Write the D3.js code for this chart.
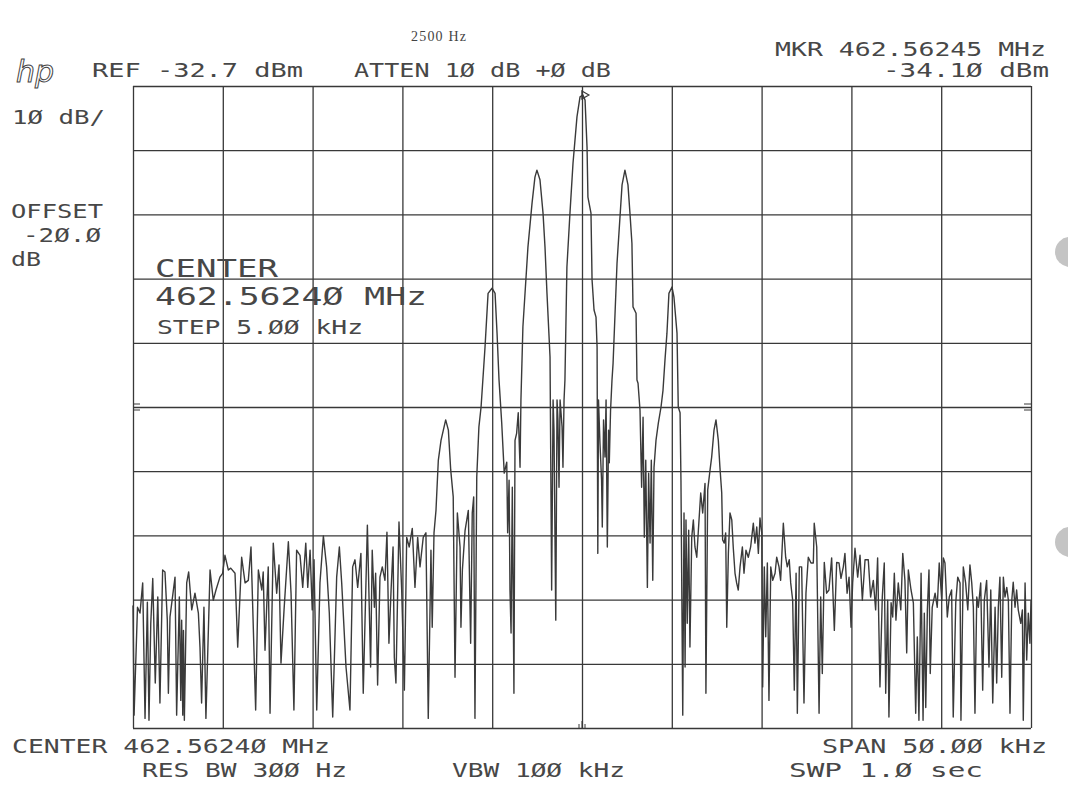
<!DOCTYPE html>
<html><head><meta charset="utf-8">
<script src="https://cdn.jsdelivr.net/npm/d3@7"></script>
<style>
html,body{margin:0;padding:0;background:#fff;}
svg{display:block;}
.plt{font-family:"DejaVu Sans Mono",monospace;fill:#474747;}
</style></head><body>
<svg id="chart" width="1068" height="800"></svg>
<script>
// ---------- data ----------
const freqOffsetKHz = [
-25.00,-24.94,-24.83,-24.75,-24.61,-24.46,-24.33,-24.20,-24.11,-24.01,
-23.90,-23.76,-23.62,-23.50,-23.35,-23.22,-23.09,-23.03,-22.94,-22.66,
-22.57,-22.42,-22.34,-22.29,-22.23,-22.19,-22.14,-22.01,-21.90,-21.73,
-21.55,-21.36,-21.27,-21.18,-21.05,-20.94,-20.71,-20.53,-20.38,-20.16,
-20.01,-19.88,-19.69,-19.56,-19.32,-19.17,-18.95,-18.76,-18.58,-18.43,
-18.17,-18.02,-17.83,-17.75,-17.65,-17.47,-17.37,-17.19,-17.00,-16.87,
-16.76,-16.59,-16.35,-16.20,-16.04,-15.89,-15.70,-15.55,-15.38,-15.27,
-15.14,-15.02,-14.92,-14.77,-14.59,-14.40,-14.22,-14.07,-13.88,-13.66,
-13.51,-13.38,-13.14,-12.92,-12.77,-12.64,-12.49,-12.31,-12.18,-11.95,
-11.77,-11.68,-11.56,-11.49,-11.38,-11.25,-11.12,-10.97,-10.86,-10.75,
-10.63,-10.52,-10.45,-10.36,-10.19,-10.04,-9.89,-9.76,-9.62,-9.45,
-9.30,-9.15,-9.02,-8.84,-8.69,-8.56,-8.41,-8.34,-8.24,-8.13,
-8.00,-7.85,-7.72,-7.59,-7.44,-7.31,-7.17,-7.07,-6.94,-6.79,
-6.74,-6.66,-6.51,-6.33,-6.20,-6.11,-6.03,-5.96,-5.86,-5.74,
-5.62,-5.40,-5.23,-5.01,-4.84,-4.73,-4.62,-4.47,-4.33,-4.19,
-4.14,-4.06,-4.01,-3.95,-3.88,-3.79,-3.73,-3.64,-3.55,-3.45,
-3.40,-3.29,-3.01,-2.78,-2.62,-2.51,-2.34,-2.17,-2.06,-1.95,
-1.78,-1.69,-1.61,-1.56,-1.46,-1.39,-1.34,-1.28,-1.22,-1.11,
-1.06,-1.00,-0.95,-0.84,-0.67,-0.50,-0.28,-0.11,0.05,0.17,
0.28,0.33,0.50,0.56,0.67,0.78,0.84,0.88,0.92,1.00,
1.09,1.13,1.20,1.28,1.34,1.41,1.48,1.52,1.59,1.67,
1.73,1.95,2.23,2.39,2.56,2.67,2.78,2.84,3.01,3.06,
3.12,3.23,3.32,3.40,3.47,3.55,3.64,3.71,3.79,3.86,
3.94,4.01,4.12,4.25,4.40,4.51,4.62,4.73,4.84,5.01,
5.12,5.29,5.36,5.46,5.51,5.61,5.68,5.74,5.79,5.86,
5.94,6.01,6.11,6.20,6.29,6.39,6.48,6.61,6.72,6.85,
6.90,7.00,7.13,7.22,7.35,7.46,7.59,7.68,7.78,7.83,
7.92,8.00,8.06,8.15,8.24,8.34,8.42,8.52,8.61,8.70,
8.80,8.93,9.02,9.13,9.26,9.39,9.54,9.63,9.73,9.82,
9.91,10.01,10.06,10.15,10.23,10.32,10.41,10.51,10.62,10.75,
10.84,10.97,11.06,11.21,11.34,11.43,11.54,11.62,11.73,11.82,
11.92,11.99,12.10,12.23,12.36,12.47,12.60,12.75,12.88,12.93,
13.07,13.20,13.29,13.38,13.49,13.62,13.75,13.90,14.05,14.18,
14.31,14.42,14.55,14.64,14.76,14.87,14.98,15.07,15.20,15.35,
15.48,15.61,15.76,15.94,16.07,16.22,16.35,16.46,16.59,16.72,
16.83,16.91,17.02,17.09,17.21,17.30,17.39,17.48,17.61,17.75,
17.86,17.98,18.08,18.17,18.32,18.45,18.58,18.67,18.76,18.88,
18.99,19.06,19.14,19.23,19.32,19.39,19.50,19.66,19.78,19.89,
20.03,20.12,20.21,20.34,20.45,20.58,20.67,20.81,20.92,21.05,
21.10,21.23,21.36,21.48,21.60,21.70,21.79,21.88,21.98,22.07,
22.20,22.31,22.40,22.53,22.66,22.76,22.87,23.00,23.09,23.18,
23.27,23.37,23.46,23.55,23.65,23.74,23.83,23.93,24.01,24.11,
24.20,24.29,24.43,24.52,24.57,24.67,24.76,24.85,24.94,25.00
];
const levelDbm = [
-113.6,-130.7,-121.0,-113.9,-114.8,-110.1,-131.2,-113.1,-131.5,-116.4,
-109.4,-125.7,-112.3,-128.8,-108.1,-108.4,-115.9,-127.3,-115.4,-109.2,
-130.7,-112.3,-128.4,-115.9,-130.7,-117.5,-131.5,-110.1,-108.4,-114.3,
-111.7,-114.8,-120.1,-128.8,-113.9,-131.2,-108.1,-112.8,-111.2,-109.2,
-108.6,-105.8,-108.1,-107.8,-108.6,-120.1,-106.1,-110.1,-109.7,-104.5,
-129.9,-108.1,-111.2,-108.4,-120.6,-107.6,-130.4,-103.9,-111.7,-107.3,
-122.6,-114.3,-103.7,-111.7,-129.9,-105.0,-105.8,-110.8,-103.9,-110.8,
-105.0,-114.3,-106.5,-129.9,-110.1,-102.8,-107.6,-114.8,-131.0,-109.2,
-104.5,-110.1,-123.2,-129.9,-107.6,-106.5,-110.8,-105.5,-127.3,-101.1,
-123.2,-105.0,-113.9,-108.6,-126.0,-109.2,-107.6,-109.7,-102.2,-119.5,
-111.2,-104.5,-121.7,-125.7,-100.6,-111.2,-126.8,-103.0,-104.5,-101.6,
-110.8,-103.0,-107.6,-103.0,-102.3,-131.2,-105.0,-117.0,-102.3,-98.8,
-91.0,-87.9,-86.3,-84.7,-86.3,-92.5,-96.7,-124.8,-99.2,-104.5,
-117.0,-108.1,-101.9,-98.8,-119.5,-99.2,-96.7,-131.2,-93.6,-85.8,
-82.7,-73.4,-65.0,-64.2,-65.0,-71.2,-78.5,-85.2,-93.0,-91.3,
-102.3,-94.1,-111.2,-117.9,-95.2,-127.3,-87.9,-86.8,-83.6,-92.1,
-81.6,-70.2,-57.8,-50.9,-46.9,-45.8,-47.3,-52.5,-57.8,-65.0,
-74.9,-111.2,-81.6,-86.3,-115.9,-81.6,-84.7,-95.2,-81.6,-85.8,
-92.1,-81.6,-78.5,-60.9,-52.5,-44.7,-37.5,-34.4,-34.1,-34.9,
-42.2,-50.0,-52.5,-62.9,-67.6,-68.7,-73.4,-105.5,-81.6,-88.3,
-94.1,-101.4,-84.7,-90.5,-81.6,-104.5,-86.3,-91.4,-83.2,-78.5,
-75.9,-60.3,-48.1,-45.8,-48.1,-52.5,-57.2,-67.1,-68.1,-78.5,
-79.0,-83.2,-95.2,-84.3,-103.0,-91.0,-110.8,-93.0,-103.9,-91.0,
-109.7,-92.1,-87.9,-85.2,-82.7,-80.1,-75.4,-71.2,-65.0,-64.0,
-65.6,-71.2,-82.7,-83.6,-94.1,-130.7,-99.2,-123.2,-100.3,-116.4,
-101.9,-120.1,-103.0,-100.3,-104.5,-106.1,-101.9,-96.1,-99.2,-94.6,
-127.3,-95.6,-92.5,-90.5,-86.3,-84.7,-87.9,-92.1,-96.1,-103.4,
-103.9,-102.3,-117.0,-105.5,-99.2,-100.3,-104.5,-108.6,-110.1,-111.2,
-107.6,-104.5,-108.6,-105.0,-106.1,-104.5,-100.8,-103.9,-101.4,-105.5,
-100.0,-102.3,-126.3,-107.6,-118.5,-107.0,-128.4,-107.6,-109.7,-108.6,
-106.1,-107.6,-109.7,-100.8,-106.1,-107.6,-106.5,-110.1,-112.8,-126.8,
-108.6,-130.4,-107.6,-107.6,-128.8,-111.7,-106.1,-107.0,-107.0,-100.8,
-104.5,-130.4,-112.3,-124.2,-106.9,-111.7,-111.2,-106.2,-117.5,-106.9,
-107.0,-109.4,-107.6,-105.5,-111.7,-109.2,-117.0,-110.1,-104.7,-109.2,
-105.8,-112.8,-106.5,-106.5,-112.3,-109.7,-114.3,-106.2,-126.3,-112.3,
-107.0,-127.3,-112.8,-131.0,-113.2,-115.4,-108.6,-115.9,-110.1,-114.3,
-105.5,-109.7,-121.0,-108.1,-111.2,-113.2,-130.4,-118.5,-131.5,-108.6,
-131.5,-114.8,-129.5,-114.3,-108.1,-124.2,-113.9,-111.7,-113.9,-107.0,
-112.8,-106.2,-107.0,-115.4,-112.3,-111.2,-131.0,-113.2,-109.2,-110.1,
-131.5,-107.6,-110.1,-114.3,-107.3,-110.1,-113.9,-130.4,-112.3,-113.9,
-110.1,-126.8,-112.8,-109.7,-123.2,-111.2,-128.8,-113.9,-125.7,-113.9,
-109.2,-124.8,-109.2,-112.3,-110.8,-112.8,-130.4,-112.8,-110.0,-113.9,
-111.2,-114.3,-116.4,-114.3,-131.5,-110.1,-122.1,-114.8,-119.5,-112.8
];
const refLevelDbm = -32.7;
const dbPerDiv = 10;
const yDivisions = 10;
const xTicksKHz = [-25,-20,-15,-10,-5,0,5,10,15,20,25];
const markerFreqKHz = [0.05];
const markerLevelDbm = [-34.10];

// annotation texts
const headerTexts = ["REF -32.7 dBm", "ATTEN 1Ø dB +Ø dB", "MKR 462.56245 MHz", "-34.1Ø dBm"];
const sideTexts = ["1Ø dB/", "OFFSET", "-2Ø.Ø", "dB"];
const centerTexts = ["CENTER", "462.5624Ø MHz", "STEP 5.ØØ kHz"];
const footerTexts = ["CENTER 462.5624Ø MHz", "RES BW 3ØØ Hz", "VBW 1ØØ kHz", "SPAN 5Ø.ØØ kHz", "SWP 1.Ø  sec"];
const noteText = "2500 Hz";

// ---------- drawing ----------
const svg = d3.select("#chart");
const plot = {left:133, right:1031, top:86, bottom:728};
const yTicks = d3.range(yDivisions + 1).map(i => refLevelDbm - i * dbPerDiv);

const x = d3.scaleLinear().domain([-25, 25]).range([plot.left, plot.right]);
const y = d3.scaleLinear().domain([refLevelDbm - yDivisions*dbPerDiv, refLevelDbm]).range([plot.bottom, plot.top]);

const ink = "#383838";

// grid via axes
const gx = svg.append("g").attr("transform", `translate(0,${plot.bottom})`)
  .call(d3.axisBottom(x).tickValues(xTicksKHz).tickSize(-(plot.bottom - plot.top)).tickFormat(""));
gx.select(".domain").remove();
gx.selectAll(".tick line").attr("stroke", ink).attr("stroke-width", 1.3);

const gy = svg.append("g").attr("transform", `translate(${plot.left},0)`)
  .call(d3.axisLeft(y).tickValues(yTicks).tickSize(-(plot.right - plot.left)).tickFormat(""));
gy.select(".domain").remove();
gy.selectAll(".tick line").attr("stroke", ink).attr("stroke-width", 1.3);

// small reference hash marks on edges
const midLevel = refLevelDbm - 5*dbPerDiv;
[[plot.left, 1], [plot.right, -1]].forEach(([ex, dir]) => {
  [-3, 3].forEach(o => svg.append("line")
    .attr("x1", ex).attr("x2", ex + dir*7)
    .attr("y1", y(midLevel) + o).attr("y2", y(midLevel) + o)
    .attr("stroke", ink).attr("stroke-width", 1));
});
[-3, 0, 3].forEach((o, i) => svg.append("line")
  .attr("x1", x(0) + o).attr("x2", x(0) + o)
  .attr("y1", plot.bottom).attr("y2", plot.bottom - (i === 1 ? 7 : 4))
  .attr("stroke", ink).attr("stroke-width", 1));

// trace
const n = Math.min(freqOffsetKHz.length, levelDbm.length);
const trace = d3.range(n).map(i => ({f: freqOffsetKHz[i], v: levelDbm[i]}));
svg.append("path").datum(trace)
  .attr("d", d3.line().x(d => x(d.f)).y(d => y(d.v)))
  .attr("fill", "none").attr("stroke", "#3a3a3a").attr("stroke-width", 1.4)
  .attr("stroke-linejoin", "round");

// marker
svg.selectAll(".mkr").data(markerFreqKHz).enter().append("path")
  .attr("class", "mkr")
  .attr("transform", (d, i) => `translate(${x(d)+2},${y(markerLevelDbm[i])})`)
  .attr("d", "M-3,-4 L4,0 L-3,4 Z")
  .attr("fill", "none").attr("stroke", ink).attr("stroke-width", 1.2);

// text helper
function txt(s, tx, ty, w, size) {
  svg.append("text").attr("class", "plt")
    .attr("x", tx).attr("y", ty)
    .attr("font-size", size)
    .attr("textLength", w).attr("lengthAdjust", "spacingAndGlyphs")
    .text(s);
}
// header
txt(headerTexts[0], 92, 77, 211, 19);
txt(headerTexts[1], 354, 77, 257, 19);
txt(headerTexts[2], 775, 56, 271, 19);
txt(headerTexts[3], 883, 77, 166, 19);
// side
txt(sideTexts[0], 12, 124, 93, 19);
txt(sideTexts[1], 11, 218, 92, 19);
txt(sideTexts[2], 23, 242, 78, 19);
txt(sideTexts[3], 11, 266, 30, 19);
// center block
txt(centerTexts[0], 155, 277, 123, 24);
txt(centerTexts[1], 155, 305, 272, 25);
txt(centerTexts[2], 157, 334, 206, 20);
// footer
txt(footerTexts[0], 12, 753, 318, 19);
txt(footerTexts[1], 142, 777, 205, 19);
txt(footerTexts[2], 452, 777, 173, 19);
txt(footerTexts[3], 822, 753, 225, 19);
txt(footerTexts[4], 789, 777, 194, 19);

// typed annotation
svg.append("text").attr("x", 411).attr("y", 41)
  .attr("font-family", "'Liberation Serif', serif").attr("font-size", 14)
  .attr("letter-spacing", 1.2).attr("fill", "#444").text(noteText);

// hp logo
svg.append("text").attr("x", 16).attr("y", 82)
  .attr("font-family", "'DejaVu Sans', sans-serif").attr("font-size", 30)
  .attr("font-style", "italic").attr("font-weight", 200)
  .attr("fill", "none").attr("stroke", "#444").attr("stroke-width", 1)
  .text("hp");

// scan artefacts (punch holes at right edge)
[252, 542].forEach(cy => svg.append("circle").attr("cx", 1070).attr("cy", cy).attr("r", 15).attr("fill", "#c4c4c4"));
</script>
</body></html>
